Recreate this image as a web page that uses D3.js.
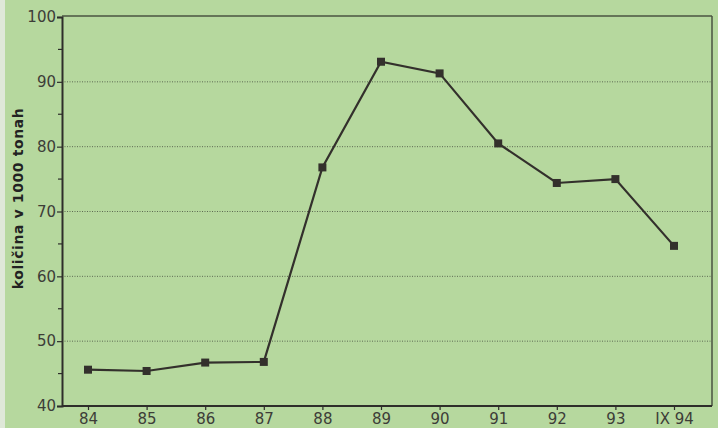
<!DOCTYPE html>
<html><head><meta charset="utf-8">
<script src="https://cdn.jsdelivr.net/npm/d3@7"></script>
<style>
html,body{margin:0;padding:0;background:#b5d79f;}
svg{display:block;}
</style></head>
<body>
<svg id="chart" width="718" height="428"></svg>
<script>
const categories = ["84","85","86","87","88","89","90","91","92","93","IX 94"];
const values = [45.6, 45.4, 46.7, 46.8, 76.8, 93.1, 91.3, 80.5, 74.4, 75.0, 64.7];
const yTicks = [40, 50, 60, 70, 80, 90, 100];
const yMinor = [45, 55, 65, 75, 85, 95];
const yTitle = "količina v 1000 tonah";

(function () {
const svg = d3.select("#chart");
const W = 718, H = 428;
const mLeft = 62, mRight = 712, mTop = 17, mBottom = 406;
const ink = "#2e2e2a";
const font = "DejaVu Sans, sans-serif";

svg.append("rect").attr("width", W).attr("height", H).attr("fill", "#b6d89e");
svg.append("rect").attr("x", 0).attr("y", 0).attr("width", 5).attr("height", H).attr("fill", "#dfe8d8");

const x = d3.scalePoint().domain(categories).range([88, 674]);
const y = d3.scaleLinear().domain([40, 100]).range([mBottom, mTop]);

// dotted gridlines
svg.append("g").selectAll("line").data(yTicks.filter(v => v > 40 && v < 100)).join("line")
  .attr("x1", mLeft).attr("x2", mRight)
  .attr("y1", d => y(d)).attr("y2", d => y(d))
  .attr("stroke", "#5d6a52").attr("stroke-width", 1).attr("stroke-dasharray", "1,1.5");

// frame top/right
svg.append("line").attr("x1", mLeft).attr("x2", mRight).attr("y1", mTop - 1).attr("y2", mTop - 1)
  .attr("stroke", "#4a5540").attr("stroke-width", 1.5);
svg.append("line").attr("x1", mRight).attr("x2", mRight).attr("y1", mTop - 1).attr("y2", mBottom)
  .attr("stroke", "#4a5540").attr("stroke-width", 1.5);

// y axis
const yAxis = d3.axisLeft(y).tickValues(yTicks).tickSize(5).tickPadding(1).tickFormat(d3.format("d"));
const gy = svg.append("g").attr("transform", `translate(${mLeft},0)`).call(yAxis);
gy.select(".domain").attr("stroke", ink).attr("stroke-width", 2);
gy.selectAll(".tick line").attr("stroke", ink).attr("stroke-width", 1.2);
gy.selectAll(".tick text").attr("fill", "#3d3d38").style("font-family", font).style("font-size", "15px");
svg.append("g").selectAll("line").data(yMinor).join("line")
  .attr("x1", mLeft - 4).attr("x2", mLeft).attr("y1", d => y(d)).attr("y2", d => y(d))
  .attr("stroke", ink).attr("stroke-width", 1.2);

// x axis
const xAxis = d3.axisBottom(x).tickSize(4).tickPadding(3);
const gx = svg.append("g").attr("transform", `translate(0,${mBottom})`).call(xAxis);
gx.select(".domain").attr("d", `M${mLeft},0H${mRight}`).attr("stroke", ink).attr("stroke-width", 2);
gx.selectAll(".tick line").attr("stroke", ink).attr("stroke-width", 1.2);
gx.selectAll(".tick text").attr("fill", "#3d3d38").style("font-family", font).style("font-size", "15px");

// y title
svg.append("text").attr("transform", `translate(23,${(mTop + mBottom) / 2 - 13}) rotate(-90)`)
  .attr("text-anchor", "middle").attr("fill", "#222")
  .style("font-family", font).style("font-size", "14px").style("font-weight", "bold")
  .style("letter-spacing", "0.6px")
  .text(yTitle);

// line
const line = d3.line().x((d, i) => x(categories[i])).y(d => y(d));
svg.append("path").datum(values).attr("d", line).attr("fill", "none")
  .attr("stroke", "#33302c").attr("stroke-width", 2.2);
svg.append("g").selectAll("rect").data(values).join("rect")
  .attr("x", (d, i) => x(categories[i]) - 4).attr("y", d => y(d) - 4)
  .attr("width", 8).attr("height", 8).attr("fill", "#33302c");
})();
</script>
</body></html>
